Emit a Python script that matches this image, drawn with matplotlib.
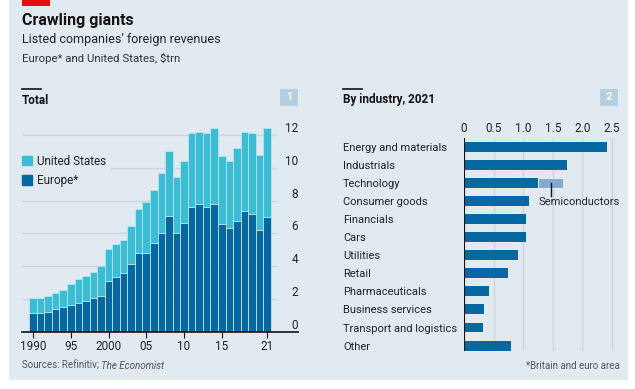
import matplotlib
matplotlib.use("Agg")
import matplotlib.pyplot as plt
from matplotlib.patches import Rectangle, Patch

# Colours
bg = '#e1eaf1'
us_col = '#3dbdd3'
eu_col = '#0668a0'
semi_col = '#86a9cf'
grid_col = '#c9d4dd'
box_col = '#b6cfe0'

# Left chart: total foreign revenues, $trn
years = list(range(1990, 2022))
europe = [1.17, 1.17, 1.23, 1.39, 1.50, 1.66, 1.78, 1.90, 2.06, 2.22,
          3.11, 3.37, 3.61, 4.12, 4.83, 4.83, 5.40, 6.05, 7.07, 6.05,
          6.62, 7.60, 7.78, 7.60, 7.78, 6.56, 6.32, 6.78, 7.37, 7.19,
          6.21, 7.02]
us = [0.87, 0.88, 0.97, 0.99, 1.05, 1.29, 1.42, 1.53, 1.62, 1.78,
      1.92, 2.00, 2.01, 2.32, 2.67, 3.07, 3.26, 3.65, 3.93, 3.40,
      3.78, 4.50, 4.42, 4.50, 4.62, 4.14, 4.08, 4.42, 4.83, 4.91,
      4.59, 5.38]
year_ticks = [1990, 1995, 2000, 2005, 2010, 2015, 2021]
year_labels = ['1990', '95', '2000', '05', '10', '15', '21']

# Right chart: by industry, 2021
industries = ['Energy and materials', 'Industrials', 'Technology', 'Consumer goods',
              'Financials', 'Cars', 'Utilities', 'Retail', 'Pharmaceuticals',
              'Business services', 'Transport and logistics', 'Other']
ind_values = [2.41, 1.74, 1.25, 1.09, 1.04, 1.04, 0.91, 0.75, 0.43, 0.34, 0.315, 0.79]
semis_start = 1.25
semis_value = 0.43

W, H = 635, 389
fig = plt.figure(figsize=(W / 100, H / 100), dpi=100, facecolor='white')
plt.rcParams['font.family'] = ['Roboto', 'DejaVu Sans']


def fx(px):
    return px / W


def fy(py):
    return 1 - py / H


# panel background and red tag
fig.patches.append(Rectangle((fx(9), fy(380)), fx(619), 380 / H, transform=fig.transFigure,
                             facecolor=bg, edgecolor='none', zorder=-10))
fig.patches.append(Rectangle((fx(22), fy(6)), fx(28), 6 / H, transform=fig.transFigure,
                             facecolor='#e3120b', edgecolor='none', zorder=-5))

fig.text(fx(22), fy(21), 'Crawling giants', fontsize=11.5, fontweight='bold', color='#121212', va='center')
fig.text(fx(22), fy(40), 'Listed companies\u2019 foreign revenues', fontsize=9, color='#222222', va='center')
fig.text(fx(22), fy(58), 'Europe* and United States, $trn', fontsize=8.2, color='#333333', va='center')

# panel headings
for x0, title, num, bx in [(22, 'Total', '1', 280), (343, 'By industry, 2021', '2', 600)]:
    fig.add_artist(plt.Line2D([fx(x0), fx(x0 + 19)], [fy(89), fy(89)], color='#121212', lw=1.2))
    fig.text(fx(x0), fy(100), title, fontsize=8.5, fontweight='bold', color='#121212', va='center')
    fig.patches.append(Rectangle((fx(bx), fy(106)), fx(18), 17 / H, transform=fig.transFigure,
                                 facecolor=box_col, edgecolor='none', zorder=-5))
    fig.text(fx(bx + 9), fy(97.5), num, fontsize=8, fontweight='bold', color='white',
             ha='center', va='center')

# ---- left chart ----
ax1 = fig.add_axes([fx(22), fy(332), fx(255), (332 - 125) / H])
ax1.set_facecolor('none')
ax1.bar(years, europe, width=1.0, color=eu_col, edgecolor=bg, linewidth=0.5, zorder=2)
ax1.bar(years, us, bottom=europe, width=1.0, color=us_col, edgecolor='#bfe6ee', linewidth=0.5, zorder=2)
ax1.set_xlim(1988.54, 2022.32)
ax1.set_ylim(0, 12.6)
ax1.set_yticks(range(0, 13, 2))
ax1.yaxis.tick_right()
ax1.tick_params(axis='y', length=0, pad=15, labelsize=8.5, labelcolor='#222222')
for lab in ax1.get_yticklabels():
    lab.set_ha('right')
    lab.set_va('bottom')
ax1.grid(axis='y', color=grid_col, lw=1, zorder=0)
ax1.set_xticks(year_ticks)
ax1.set_xticklabels(year_labels)
ax1.tick_params(axis='x', length=4, width=0.8, color='#121212', labelsize=8.5, labelcolor='#222222', pad=2)
for s in ax1.spines.values():
    s.set_visible(False)
ax1.plot([0, 1.083], [0, 0], transform=ax1.get_yaxis_transform(), color='#121212', lw=1.2,
         clip_on=False, zorder=3)
leg = ax1.legend(handles=[Patch(color=us_col, label='United States'),
                          Patch(color=eu_col, label='Europe*')],
                 loc='upper left', bbox_to_anchor=(fx(18), fy(151)), bbox_transform=fig.transFigure,
                 frameon=True, facecolor=bg, edgecolor='none', framealpha=1, fontsize=8.5,
                 handlelength=0.9, handleheight=0.9, handletextpad=0.4, labelspacing=0.55,
                 borderpad=0.3, borderaxespad=0)
for t in leg.get_texts():
    t.set_color('#222222')

# ---- right chart ----
ax2 = fig.add_axes([fx(464), fy(351), fx(151), (351 - 137.7) / H])
ax2.set_facecolor('none')
ypos = list(range(len(industries)))
ax2.barh(ypos, ind_values, height=0.55, color=eu_col, zorder=2)
ax2.barh([2], [semis_value], left=[semis_start], height=0.55, color=semi_col,
         edgecolor=bg, linewidth=0.8, zorder=2)
ax2.set_xlim(0, 2.55)
ax2.set_ylim(11.3, -0.5)
ax2.set_xticks([0, 0.5, 1.0, 1.5, 2.0, 2.5])
ax2.set_xticklabels(['0', '0.5', '1.0', '1.5', '2.0', '2.5'])
ax2.xaxis.tick_top()
ax2.tick_params(axis='x', length=0, pad=2, labelsize=8.5, labelcolor='#222222')
ax2.set_yticks(ypos)
ax2.set_yticklabels(industries)
ax2.tick_params(axis='y', length=0, pad=87, labelsize=8, labelcolor='#222222')
for lab in ax2.get_yticklabels():
    lab.set_ha('left')
ax2.grid(axis='x', color=grid_col, lw=1, zorder=0)
for s in ax2.spines.values():
    s.set_visible(False)
ax2.axvline(0, color='#121212', lw=1.5, zorder=3)
semi_mid = semis_start + semis_value / 2
ax2.plot([semi_mid, semi_mid], [2, 2.7], color='#121212', lw=1, zorder=3)
ax2.text(1.25, 3.05, 'Semiconductors', fontsize=8, color='#222222', va='center', ha='left', zorder=4)

# footer
t1 = fig.text(fx(22), fy(366), 'Sources: Refinitiv; ', fontsize=7, color='#555555', va='center')
fig.add_artist(plt.Annotation('The Economist', xy=(1, 0.5), xycoords=t1, va='center', ha='left',
                              fontsize=7, color='#555555', fontstyle='italic'))
fig.text(fx(620), fy(366), '*Britain and euro area', fontsize=7, color='#555555', va='center', ha='right')

fig.savefig('out.png', dpi=100, facecolor='white')
